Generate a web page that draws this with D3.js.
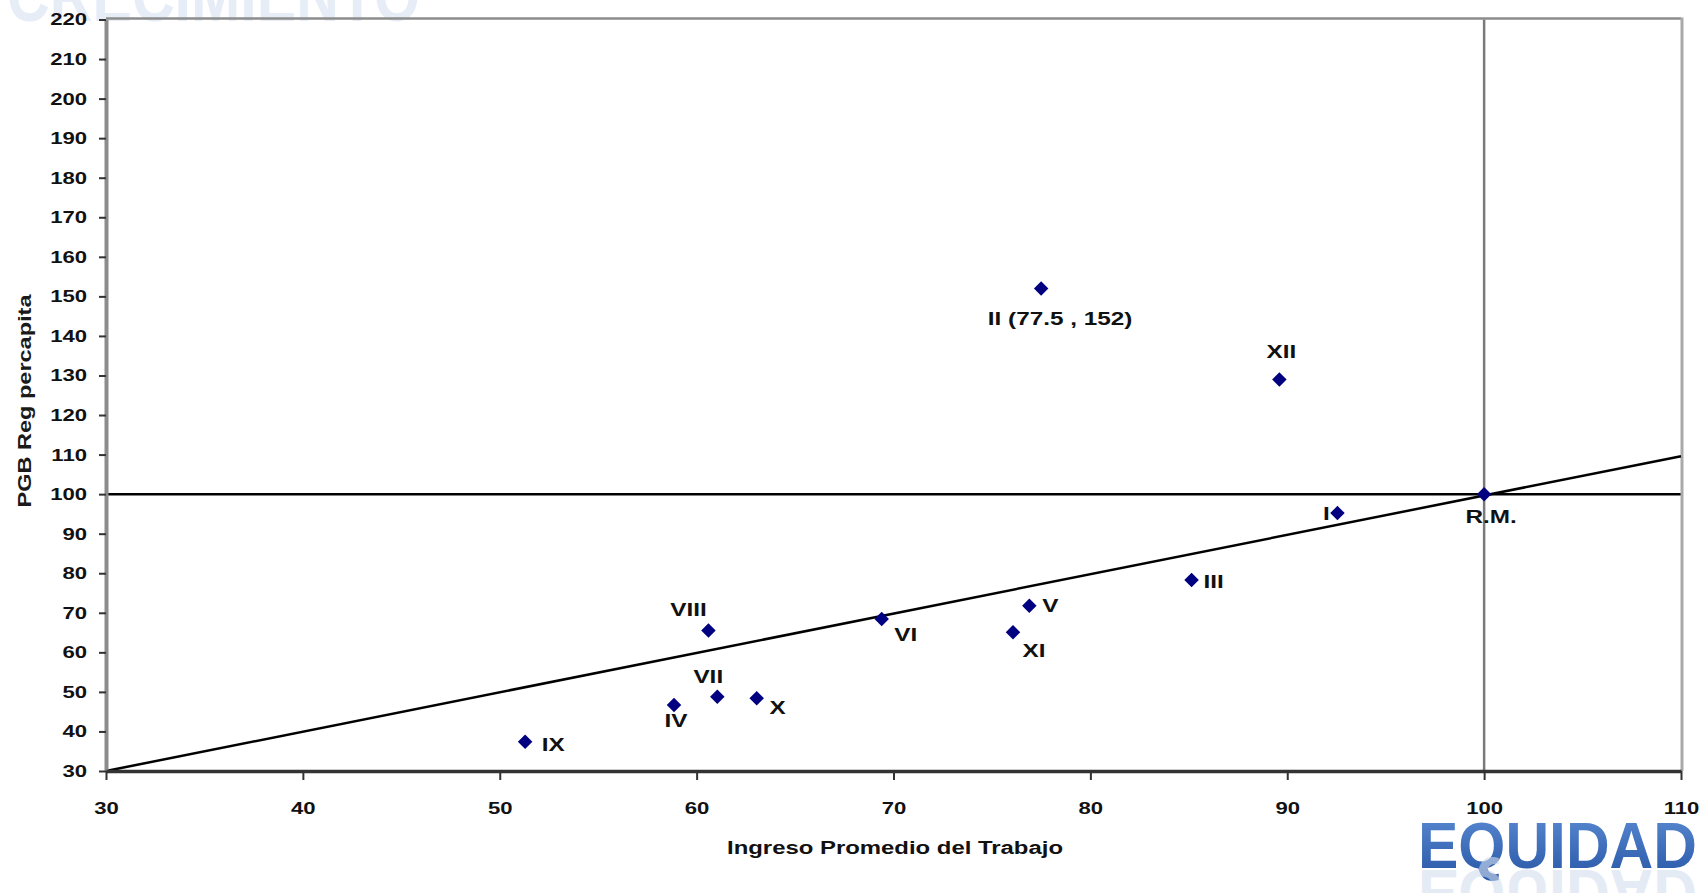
<!DOCTYPE html>
<html><head><meta charset="utf-8">
<script src="https://cdn.jsdelivr.net/npm/d3@7"></script>
<style>html,body{margin:0;padding:0;background:#fff;overflow:hidden}</style>
</head><body>
<svg id="chart" width="1703" height="893"></svg>
<script>
// ---------- data ----------
const regions = ["II (77.5 , 152)", "XII", "I", "R.M.", "III", "V", "XI", "VI", "VIII", "VII", "X", "IV", "IX"];
const ingreso = [77.5, 89.6, 92.55, 100, 85.14, 76.9, 76.07, 69.4, 60.6, 61.05, 63.05, 58.85, 51.29];
const pgb     = [152, 129, 95.2, 100, 78.3, 71.8, 65.1, 68.4, 65.5, 48.8, 48.4, 46.7, 37.4];
const trendX = [30, 110];
const trendY = [30, 109.6];
const xTicks = [30, 40, 50, 60, 70, 80, 90, 100, 110];
const yTicks = [30, 40, 50, 60, 70, 80, 90, 100, 110, 120, 130, 140, 150, 160, 170, 180, 190, 200, 210, 220];
const refX = 100, refY = 100;
const xTitle = "Ingreso Promedio del Trabajo";
const yTitle = "PGB Reg percapita";

// ---------- layout ----------
const L = 106, R = 1681, T = 19.5, B = 771;
const labelOffset = [[19, 30.5], [2, -28], [-11, 0], [7, 22], [22, 2], [21, 0], [21, 18], [24, 15], [-20, -21], [-9, -20], [21, 9], [2, 16], [28, 3]];
const FONT = "'Liberation Sans', Arial, sans-serif";

const svg = d3.select("#chart");
const x = d3.scaleLinear().domain([30, 110]).range([L, R]);
const y = d3.scaleLinear().domain([30, 220]).range([B, T]);

function stretch(sel, f) {
  sel.each(function () {
    const w = this.getComputedTextLength();
    d3.select(this).attr("textLength", w * f).attr("lengthAdjust", "spacingAndGlyphs");
  });
}

// defs
const defs = svg.append("defs");
const g1 = defs.append("linearGradient").attr("id", "eqg").attr("x1", 0).attr("y1", 0).attr("x2", 0).attr("y2", 1);
g1.append("stop").attr("offset", "0%").attr("stop-color", "#5b8bd2");
g1.append("stop").attr("offset", "100%").attr("stop-color", "#2656a6");

// watermark top
svg.append("text").attr("x", 7).attr("y", 21)
  .attr("font-family", FONT).attr("font-weight", "bold").attr("font-size", 72)
  .attr("fill", "#e6edf7").attr("textLength", 413).attr("lengthAdjust", "spacingAndGlyphs")
  .text("CRECIMIENTO");

// reference lines
svg.append("line").attr("x1", x(refX)).attr("x2", x(refX)).attr("y1", T).attr("y2", B)
  .attr("stroke", "#7a7a7a").attr("stroke-width", 2.5);
svg.append("line").attr("x1", L).attr("x2", R).attr("y1", y(refY)).attr("y2", y(refY))
  .attr("stroke", "#000").attr("stroke-width", 2.5);

// frame top/right
svg.append("line").attr("x1", L).attr("x2", R).attr("y1", T - 1).attr("y2", T - 1)
  .attr("stroke", "#8c8c8c").attr("stroke-width", 2.5);
svg.append("line").attr("x1", R + 1).attr("x2", R + 1).attr("y1", T - 2).attr("y2", B)
  .attr("stroke", "#aaaaaa").attr("stroke-width", 3);

// trend line
svg.append("path")
  .datum(trendX.map((d, i) => [d, trendY[i]]))
  .attr("d", d3.line().x(d => x(d[0])).y(d => y(d[1])))
  .attr("fill", "none").attr("stroke", "#000").attr("stroke-width", 2.5);

// y axis
const ya = svg.append("g").attr("transform", `translate(${L},0)`)
  .call(d3.axisLeft(y).tickValues(yTicks).tickSize(7).tickSizeOuter(0).tickPadding(12));
ya.select(".domain").attr("stroke", "#8c8c8c").attr("stroke-width", 4);
ya.selectAll(".tick line").attr("stroke", "#333").attr("stroke-width", 2);
ya.selectAll(".tick text").attr("font-family", FONT).attr("font-weight", "bold")
  .attr("font-size", 17).attr("fill", "#111");
stretch(ya.selectAll(".tick text"), 1.3);

// x axis
const xa = svg.append("g").attr("transform", `translate(0,${B})`)
  .call(d3.axisBottom(x).tickValues(xTicks).tickSize(9).tickSizeOuter(0));
xa.select(".domain").attr("stroke", "#333").attr("stroke-width", 3.5);
xa.selectAll(".tick line").attr("stroke", "#333").attr("stroke-width", 2);
xa.selectAll(".tick text").attr("font-family", FONT).attr("font-weight", "bold")
  .attr("font-size", 17).attr("fill", "#111").attr("y", 37).attr("dy", "0.36em");
stretch(xa.selectAll(".tick text"), 1.3);

// titles
svg.append("text").attr("x", 895).attr("y", 854).attr("text-anchor", "middle")
  .attr("font-family", FONT).attr("font-weight", "bold").attr("font-size", 18).attr("fill", "#111")
  .attr("textLength", 336).attr("lengthAdjust", "spacingAndGlyphs").text(xTitle);
svg.append("text").attr("transform", "translate(31,401) rotate(-90)").attr("text-anchor", "middle")
  .attr("font-family", FONT).attr("font-weight", "bold").attr("font-size", 18).attr("fill", "#1a1a1a")
  .attr("textLength", 213).attr("lengthAdjust", "spacingAndGlyphs").text(yTitle);

// points
const pts = regions.map((r, i) => ({ r, xv: ingreso[i], yv: pgb[i], off: labelOffset[i] }));
svg.append("g").selectAll("path").data(pts).join("path")
  .attr("d", d3.symbol(d3.symbolSquare, 105)())
  .attr("transform", d => `translate(${x(d.xv)},${y(d.yv)}) rotate(45)`)
  .attr("fill", "#000080");

const lab = svg.append("g").selectAll("text").data(pts).join("text")
  .attr("x", d => x(d.xv) + d.off[0]).attr("y", d => y(d.yv) + d.off[1])
  .attr("dy", "0.36em").attr("text-anchor", "middle")
  .attr("font-family", FONT).attr("font-weight", "bold").attr("font-size", 18).attr("fill", "#111")
  .text(d => d.r);
stretch(lab, 1.35);

// EQUIDAD logo
svg.append("text").attr("x", 1418).attr("y", 868)
  .attr("font-family", FONT).attr("font-weight", "bold").attr("font-size", 64)
  .attr("fill", "url(#eqg)").attr("textLength", 279).attr("lengthAdjust", "spacingAndGlyphs")
  .text("EQUIDAD");
svg.append("text").attr("x", 1418).attr("y", 868)
  .attr("transform", "translate(0,1738) scale(1,-1)")
  .attr("font-family", FONT).attr("font-weight", "bold").attr("font-size", 64)
  .attr("fill", "#d3deef").attr("opacity", 0.6).attr("textLength", 279).attr("lengthAdjust", "spacingAndGlyphs")
  .text("EQUIDAD");
</script>
</body></html>
